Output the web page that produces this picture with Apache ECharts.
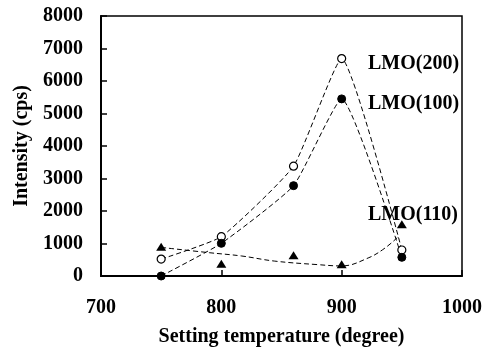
<!DOCTYPE html>
<html>
<head>
<meta charset="utf-8">
<script src="https://cdn.jsdelivr.net/npm/echarts@6/dist/echarts.min.js"></script>
<style>html,body{margin:0;padding:0;background:#fff}#c{width:486px;height:349px}</style>
</head>
<body>
<div id="c"></div>
<script>
var temps = [750, 800, 860, 900, 950];
var lmo200 = [520, 1210, 3380, 6690, 800];
var lmo100 = [0, 1005, 2780, 5450, 575];
var lmo110 = [900, 380, 640, 360, 1590];
// dashed trend curve for LMO(110)
var trend110X = [750, 790, 817, 844, 880, 900, 922, 936, 947];
var trend110Y = [880, 717, 615, 460, 350, 310, 554, 860, 1210];
var xTicks = [700, 800, 900, 1000];
var yTicks = [0, 1000, 2000, 3000, 4000, 5000, 6000, 7000, 8000];

var FONT = '"Liberation Serif", "Times New Roman", serif';
function pairs(xs, ys) { return xs.map(function (x, i) { return [x, ys[i]]; }); }

var chart = echarts.init(document.getElementById('c'), null, {renderer: 'canvas'});
chart.setOption({
  animation: false,
  backgroundColor: '#fff',
  grid: {left: 101, right: 24, top: 16, bottom: 73, show: true, borderColor: '#000', borderWidth: 1.5,
    containLabel: false, outerBoundsMode: 'none'},
  xAxis: {
    type: 'value', min: xTicks[0], max: xTicks[xTicks.length - 1], interval: 100,
    name: 'Setting temperature (degree)', nameLocation: 'middle', nameGap: 51,
    nameTextStyle: {fontFamily: FONT, fontWeight: 'bold', fontSize: 20, color: '#000'},
    axisLine: {show: true, lineStyle: {color: '#000', width: 2}},
    axisTick: {show: true, inside: true, length: 6, lineStyle: {color: '#000', width: 1.5}},
    axisLabel: {margin: 22, fontFamily: FONT, fontWeight: 'bold', fontSize: 20, color: '#000',
      formatter: function (v) { return String(v); }},
    splitLine: {show: false}
  },
  yAxis: {
    type: 'value', min: yTicks[0], max: yTicks[yTicks.length - 1], interval: 1000,
    name: 'Intensity (cps)', nameLocation: 'middle', nameGap: 66, nameRotate: 90,
    nameTextStyle: {fontFamily: FONT, fontWeight: 'bold', fontSize: 20, color: '#000'},
    axisLine: {show: true, lineStyle: {color: '#000', width: 2}},
    axisTick: {show: true, inside: true, length: 6, lineStyle: {color: '#000', width: 1.5}},
    axisLabel: {margin: 18, fontFamily: FONT, fontWeight: 'bold', fontSize: 20, color: '#000',
      formatter: function (v) { return String(v); }},
    splitLine: {show: false}
  },
  series: [
    {
      name: 'LMO(200)', type: 'line', data: pairs(temps, lmo200), smooth: 0.15,
      symbol: 'circle', symbolSize: 8,
      itemStyle: {color: '#fff', borderColor: '#000', borderWidth: 1.2},
      lineStyle: {color: '#000', width: 1, type: [5, 3]}
    },
    {
      name: 'LMO(100)', type: 'line', data: pairs(temps, lmo100), smooth: 0.15,
      symbol: 'circle', symbolSize: 8,
      itemStyle: {color: '#000', borderColor: '#000', borderWidth: 1},
      lineStyle: {color: '#000', width: 1, type: [5, 3]}
    },
    {
      name: 'LMO(110) trend', type: 'line', data: pairs(trend110X, trend110Y), smooth: 0.4,
      showSymbol: false, symbol: 'none',
      lineStyle: {color: '#000', width: 1, type: [5, 3]}
    },
    {
      name: 'LMO(110)', type: 'scatter', data: pairs(temps, lmo110),
      symbol: 'triangle', symbolSize: [10, 8],
      itemStyle: {color: '#000', opacity: 1}
    }
  ],
  graphic: [
    {type: 'text', left: 368, top: 54, style: {text: 'LMO(200)', font: 'bold 20px ' + FONT, fill: '#000'}},
    {type: 'text', left: 368, top: 94, style: {text: 'LMO(100)', font: 'bold 20px ' + FONT, fill: '#000'}},
    {type: 'text', left: 368, top: 205, style: {text: 'LMO(110)', font: 'bold 20px ' + FONT, fill: '#000'}}
  ]
});
</script>
</body>
</html>
